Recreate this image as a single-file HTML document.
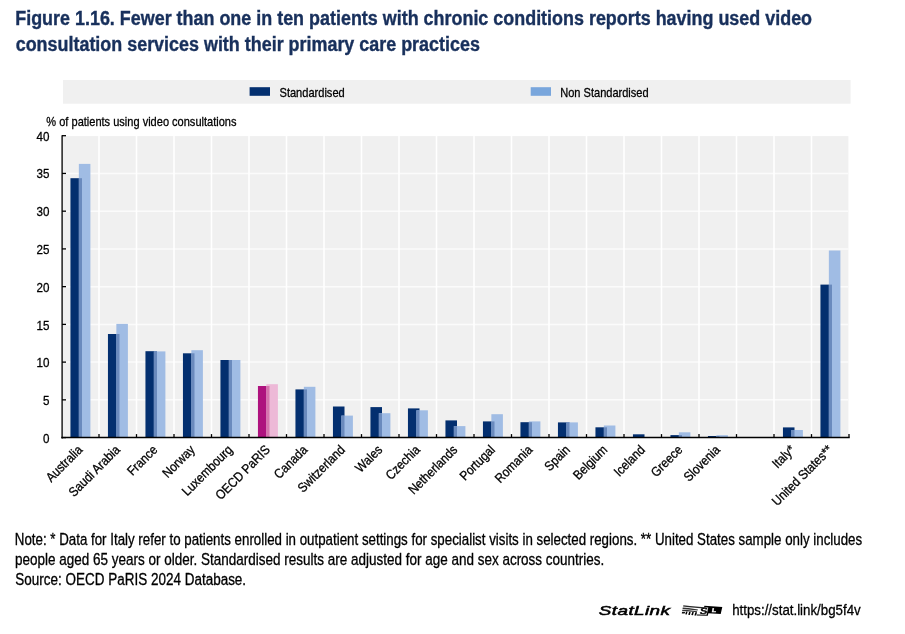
<!DOCTYPE html>
<html><head><meta charset="utf-8"><title>Figure 1.16</title>
<style>
html,body{margin:0;padding:0;background:#fff;}
body{width:905px;height:634px;overflow:hidden;position:relative;}
svg{position:absolute;left:0;top:0;font-family:"Liberation Sans",sans-serif;}
svg text{white-space:pre;}
svg text.k{fill:#000;stroke:#000;stroke-width:0.3px;}
</style></head><body>
<svg width="905" height="634" viewBox="0 0 905 634">
<rect x="63" y="80" width="787.6" height="23.7" fill="#f0f0f0"/>
<rect x="61.5" y="136.1" width="786.9" height="301.50000000000006" fill="#f0f0f0"/>
<line x1="61.5" x2="848.4" y1="399.86" y2="399.86" stroke="#fbfbfb" stroke-width="1.5"/>
<line x1="61.5" x2="848.4" y1="362.12" y2="362.12" stroke="#fbfbfb" stroke-width="1.5"/>
<line x1="61.5" x2="848.4" y1="324.39" y2="324.39" stroke="#fbfbfb" stroke-width="1.5"/>
<line x1="61.5" x2="848.4" y1="286.65" y2="286.65" stroke="#fbfbfb" stroke-width="1.5"/>
<line x1="61.5" x2="848.4" y1="248.91" y2="248.91" stroke="#fbfbfb" stroke-width="1.5"/>
<line x1="61.5" x2="848.4" y1="211.18" y2="211.18" stroke="#fbfbfb" stroke-width="1.5"/>
<line x1="61.5" x2="848.4" y1="173.44" y2="173.44" stroke="#fbfbfb" stroke-width="1.5"/>
<line x1="99.0" x2="99.0" y1="136.1" y2="437.6" stroke="#fff" stroke-width="1.6"/>
<line x1="136.5" x2="136.5" y1="136.1" y2="437.6" stroke="#fff" stroke-width="1.6"/>
<line x1="174.0" x2="174.0" y1="136.1" y2="437.6" stroke="#fff" stroke-width="1.6"/>
<line x1="211.5" x2="211.5" y1="136.1" y2="437.6" stroke="#fff" stroke-width="1.6"/>
<line x1="249.0" x2="249.0" y1="136.1" y2="437.6" stroke="#fff" stroke-width="1.6"/>
<line x1="286.5" x2="286.5" y1="136.1" y2="437.6" stroke="#fff" stroke-width="1.6"/>
<line x1="324.0" x2="324.0" y1="136.1" y2="437.6" stroke="#fff" stroke-width="1.6"/>
<line x1="361.5" x2="361.5" y1="136.1" y2="437.6" stroke="#fff" stroke-width="1.6"/>
<line x1="399.0" x2="399.0" y1="136.1" y2="437.6" stroke="#fff" stroke-width="1.6"/>
<line x1="436.5" x2="436.5" y1="136.1" y2="437.6" stroke="#fff" stroke-width="1.6"/>
<line x1="474.0" x2="474.0" y1="136.1" y2="437.6" stroke="#fff" stroke-width="1.6"/>
<line x1="511.5" x2="511.5" y1="136.1" y2="437.6" stroke="#fff" stroke-width="1.6"/>
<line x1="549.0" x2="549.0" y1="136.1" y2="437.6" stroke="#fff" stroke-width="1.6"/>
<line x1="586.5" x2="586.5" y1="136.1" y2="437.6" stroke="#fff" stroke-width="1.6"/>
<line x1="624.0" x2="624.0" y1="136.1" y2="437.6" stroke="#fff" stroke-width="1.6"/>
<line x1="661.5" x2="661.5" y1="136.1" y2="437.6" stroke="#fff" stroke-width="1.6"/>
<line x1="699.0" x2="699.0" y1="136.1" y2="437.6" stroke="#fff" stroke-width="1.6"/>
<line x1="736.5" x2="736.5" y1="136.1" y2="437.6" stroke="#fff" stroke-width="1.6"/>
<line x1="774.0" x2="774.0" y1="136.1" y2="437.6" stroke="#fff" stroke-width="1.6"/>
<line x1="811.5" x2="811.5" y1="136.1" y2="437.6" stroke="#fff" stroke-width="1.6"/>
<rect x="70.45" y="178.2" width="11.55" height="259.40" fill="#032f6f"/>
<rect x="78.85" y="163.9" width="11.55" height="273.70" fill="#a0bce4"/>
<rect x="78.85" y="178.2" width="3.15" height="259.40" fill="#6a8abd"/>
<rect x="107.95" y="334.0" width="11.55" height="103.60" fill="#032f6f"/>
<rect x="116.35" y="323.9" width="11.55" height="113.70" fill="#a0bce4"/>
<rect x="116.35" y="334.0" width="3.15" height="103.60" fill="#6a8abd"/>
<rect x="145.45" y="351.2" width="11.55" height="86.40" fill="#032f6f"/>
<rect x="153.85" y="351.4" width="11.55" height="86.20" fill="#a0bce4"/>
<rect x="153.85" y="351.4" width="3.15" height="86.20" fill="#6a8abd"/>
<rect x="182.95" y="353.3" width="11.55" height="84.30" fill="#032f6f"/>
<rect x="191.35" y="350.2" width="11.55" height="87.40" fill="#a0bce4"/>
<rect x="191.35" y="353.3" width="3.15" height="84.30" fill="#6a8abd"/>
<rect x="220.45" y="360.0" width="11.55" height="77.60" fill="#032f6f"/>
<rect x="228.85" y="360.0" width="11.55" height="77.60" fill="#a0bce4"/>
<rect x="228.85" y="360.0" width="3.15" height="77.60" fill="#6a8abd"/>
<rect x="257.95" y="386.0" width="11.55" height="51.60" fill="#ae127e"/>
<rect x="266.35" y="384.2" width="11.55" height="53.40" fill="#edb9d7"/>
<rect x="266.35" y="386.0" width="3.15" height="51.60" fill="#d674ae"/>
<rect x="295.45" y="389.4" width="11.55" height="48.20" fill="#032f6f"/>
<rect x="303.85" y="386.8" width="11.55" height="50.80" fill="#a0bce4"/>
<rect x="303.85" y="389.4" width="3.15" height="48.20" fill="#6a8abd"/>
<rect x="332.95" y="406.5" width="11.55" height="31.10" fill="#032f6f"/>
<rect x="341.35" y="415.6" width="11.55" height="22.00" fill="#a0bce4"/>
<rect x="341.35" y="415.6" width="3.15" height="22.00" fill="#6a8abd"/>
<rect x="370.45" y="407.1" width="11.55" height="30.50" fill="#032f6f"/>
<rect x="378.85" y="413.2" width="11.55" height="24.40" fill="#a0bce4"/>
<rect x="378.85" y="413.2" width="3.15" height="24.40" fill="#6a8abd"/>
<rect x="407.95" y="408.4" width="11.55" height="29.20" fill="#032f6f"/>
<rect x="416.35" y="410.3" width="11.55" height="27.30" fill="#a0bce4"/>
<rect x="416.35" y="410.3" width="3.15" height="27.30" fill="#6a8abd"/>
<rect x="445.45" y="420.4" width="11.55" height="17.20" fill="#032f6f"/>
<rect x="453.85" y="426.1" width="11.55" height="11.50" fill="#a0bce4"/>
<rect x="453.85" y="426.1" width="3.15" height="11.50" fill="#6a8abd"/>
<rect x="482.95" y="421.4" width="11.55" height="16.20" fill="#032f6f"/>
<rect x="491.35" y="414.2" width="11.55" height="23.40" fill="#a0bce4"/>
<rect x="491.35" y="421.4" width="3.15" height="16.20" fill="#6a8abd"/>
<rect x="520.45" y="422.2" width="11.55" height="15.40" fill="#032f6f"/>
<rect x="528.85" y="421.4" width="11.55" height="16.20" fill="#a0bce4"/>
<rect x="528.85" y="422.2" width="3.15" height="15.40" fill="#6a8abd"/>
<rect x="557.95" y="422.4" width="11.55" height="15.20" fill="#032f6f"/>
<rect x="566.35" y="422.4" width="11.55" height="15.20" fill="#a0bce4"/>
<rect x="566.35" y="422.4" width="3.15" height="15.20" fill="#6a8abd"/>
<rect x="595.45" y="427.3" width="11.55" height="10.30" fill="#032f6f"/>
<rect x="603.85" y="425.5" width="11.55" height="12.10" fill="#a0bce4"/>
<rect x="603.85" y="427.3" width="3.15" height="10.30" fill="#6a8abd"/>
<rect x="632.95" y="434.3" width="11.55" height="3.30" fill="#032f6f"/>
<rect x="670.45" y="435.1" width="11.55" height="2.50" fill="#032f6f"/>
<rect x="678.85" y="432.3" width="11.55" height="5.30" fill="#a0bce4"/>
<rect x="678.85" y="435.1" width="3.15" height="2.50" fill="#6a8abd"/>
<rect x="707.95" y="436.0" width="11.55" height="1.60" fill="#032f6f"/>
<rect x="716.35" y="435.2" width="11.55" height="2.40" fill="#a0bce4"/>
<rect x="716.35" y="436.0" width="3.15" height="1.60" fill="#6a8abd"/>
<rect x="782.95" y="427.4" width="11.55" height="10.20" fill="#032f6f"/>
<rect x="791.35" y="430.0" width="11.55" height="7.60" fill="#a0bce4"/>
<rect x="791.35" y="430.0" width="3.15" height="7.60" fill="#6a8abd"/>
<rect x="820.45" y="284.6" width="11.55" height="153.00" fill="#032f6f"/>
<rect x="828.85" y="250.5" width="11.55" height="187.10" fill="#a0bce4"/>
<rect x="828.85" y="284.6" width="3.15" height="153.00" fill="#6a8abd"/>
<line x1="62.1" x2="62.1" y1="135.2" y2="438.40000000000003" stroke="#000" stroke-width="1.3"/>
<line x1="61.3" x2="849.7" y1="437.6" y2="437.6" stroke="#000" stroke-width="1.5"/>
<line x1="62" x2="66" y1="437.60" y2="437.60" stroke="#000" stroke-width="1.3"/>
<line x1="62" x2="66" y1="399.86" y2="399.86" stroke="#000" stroke-width="1.3"/>
<line x1="62" x2="66" y1="362.12" y2="362.12" stroke="#000" stroke-width="1.3"/>
<line x1="62" x2="66" y1="324.39" y2="324.39" stroke="#000" stroke-width="1.3"/>
<line x1="62" x2="66" y1="286.65" y2="286.65" stroke="#000" stroke-width="1.3"/>
<line x1="62" x2="66" y1="248.91" y2="248.91" stroke="#000" stroke-width="1.3"/>
<line x1="62" x2="66" y1="211.18" y2="211.18" stroke="#000" stroke-width="1.3"/>
<line x1="62" x2="66" y1="173.44" y2="173.44" stroke="#000" stroke-width="1.3"/>
<line x1="62" x2="66" y1="135.70" y2="135.70" stroke="#000" stroke-width="1.3"/>
<line x1="99.0" x2="99.0" y1="434.1" y2="437.6" stroke="#000" stroke-width="1.3"/>
<line x1="136.5" x2="136.5" y1="434.1" y2="437.6" stroke="#000" stroke-width="1.3"/>
<line x1="174.0" x2="174.0" y1="434.1" y2="437.6" stroke="#000" stroke-width="1.3"/>
<line x1="211.5" x2="211.5" y1="434.1" y2="437.6" stroke="#000" stroke-width="1.3"/>
<line x1="249.0" x2="249.0" y1="434.1" y2="437.6" stroke="#000" stroke-width="1.3"/>
<line x1="286.5" x2="286.5" y1="434.1" y2="437.6" stroke="#000" stroke-width="1.3"/>
<line x1="324.0" x2="324.0" y1="434.1" y2="437.6" stroke="#000" stroke-width="1.3"/>
<line x1="361.5" x2="361.5" y1="434.1" y2="437.6" stroke="#000" stroke-width="1.3"/>
<line x1="399.0" x2="399.0" y1="434.1" y2="437.6" stroke="#000" stroke-width="1.3"/>
<line x1="436.5" x2="436.5" y1="434.1" y2="437.6" stroke="#000" stroke-width="1.3"/>
<line x1="474.0" x2="474.0" y1="434.1" y2="437.6" stroke="#000" stroke-width="1.3"/>
<line x1="511.5" x2="511.5" y1="434.1" y2="437.6" stroke="#000" stroke-width="1.3"/>
<line x1="549.0" x2="549.0" y1="434.1" y2="437.6" stroke="#000" stroke-width="1.3"/>
<line x1="586.5" x2="586.5" y1="434.1" y2="437.6" stroke="#000" stroke-width="1.3"/>
<line x1="624.0" x2="624.0" y1="434.1" y2="437.6" stroke="#000" stroke-width="1.3"/>
<line x1="661.5" x2="661.5" y1="434.1" y2="437.6" stroke="#000" stroke-width="1.3"/>
<line x1="699.0" x2="699.0" y1="434.1" y2="437.6" stroke="#000" stroke-width="1.3"/>
<line x1="736.5" x2="736.5" y1="434.1" y2="437.6" stroke="#000" stroke-width="1.3"/>
<line x1="774.0" x2="774.0" y1="434.1" y2="437.6" stroke="#000" stroke-width="1.3"/>
<line x1="811.5" x2="811.5" y1="434.1" y2="437.6" stroke="#000" stroke-width="1.3"/>
<line x1="849.0" x2="849.0" y1="434.1" y2="437.6" stroke="#000" stroke-width="1.3"/>
<rect x="249.6" y="87.2" width="20.4" height="8.6" fill="#032f6f"/>
<rect x="530.7" y="87.2" width="20.3" height="8.6" fill="#79a6dc"/>
<text class="k" transform="translate(49.5,442.90) scale(0.855,1)" font-size="13.6" text-anchor="end">0</text>
<text class="k" transform="translate(49.5,405.10) scale(0.855,1)" font-size="13.6" text-anchor="end">5</text>
<text class="k" transform="translate(49.5,367.30) scale(0.855,1)" font-size="13.6" text-anchor="end">10</text>
<text class="k" transform="translate(49.5,329.50) scale(0.855,1)" font-size="13.6" text-anchor="end">15</text>
<text class="k" transform="translate(49.5,291.70) scale(0.855,1)" font-size="13.6" text-anchor="end">20</text>
<text class="k" transform="translate(49.5,253.90) scale(0.855,1)" font-size="13.6" text-anchor="end">25</text>
<text class="k" transform="translate(49.5,216.10) scale(0.855,1)" font-size="13.6" text-anchor="end">30</text>
<text class="k" transform="translate(49.5,178.30) scale(0.855,1)" font-size="13.6" text-anchor="end">35</text>
<text class="k" transform="translate(49.5,140.50) scale(0.855,1)" font-size="13.6" text-anchor="end">40</text>
<text class="k" transform="translate(83.25,450.6) rotate(-45) scale(0.885,1)" font-size="13.2" text-anchor="end">Australia</text>
<text class="k" transform="translate(120.75,450.6) rotate(-45) scale(0.885,1)" font-size="13.2" text-anchor="end">Saudi Arabia</text>
<text class="k" transform="translate(158.25,450.6) rotate(-45) scale(0.885,1)" font-size="13.2" text-anchor="end">France</text>
<text class="k" transform="translate(195.75,450.6) rotate(-45) scale(0.885,1)" font-size="13.2" text-anchor="end">Norway</text>
<text class="k" transform="translate(233.25,450.6) rotate(-45) scale(0.885,1)" font-size="13.2" text-anchor="end">Luxembourg</text>
<text class="k" transform="translate(270.75,450.6) rotate(-45) scale(0.885,1)" font-size="13.2" text-anchor="end">OECD PaRIS</text>
<text class="k" transform="translate(308.25,450.6) rotate(-45) scale(0.885,1)" font-size="13.2" text-anchor="end">Canada</text>
<text class="k" transform="translate(345.75,450.6) rotate(-45) scale(0.885,1)" font-size="13.2" text-anchor="end">Switzerland</text>
<text class="k" transform="translate(383.25,450.6) rotate(-45) scale(0.885,1)" font-size="13.2" text-anchor="end">Wales</text>
<text class="k" transform="translate(420.75,450.6) rotate(-45) scale(0.885,1)" font-size="13.2" text-anchor="end">Czechia</text>
<text class="k" transform="translate(458.25,450.6) rotate(-45) scale(0.885,1)" font-size="13.2" text-anchor="end">Netherlands</text>
<text class="k" transform="translate(495.75,450.6) rotate(-45) scale(0.885,1)" font-size="13.2" text-anchor="end">Portugal</text>
<text class="k" transform="translate(533.25,450.6) rotate(-45) scale(0.885,1)" font-size="13.2" text-anchor="end">Romania</text>
<text class="k" transform="translate(570.75,450.6) rotate(-45) scale(0.885,1)" font-size="13.2" text-anchor="end">Spain</text>
<text class="k" transform="translate(608.25,450.6) rotate(-45) scale(0.885,1)" font-size="13.2" text-anchor="end">Belgium</text>
<text class="k" transform="translate(645.75,450.6) rotate(-45) scale(0.885,1)" font-size="13.2" text-anchor="end">Iceland</text>
<text class="k" transform="translate(683.25,450.6) rotate(-45) scale(0.885,1)" font-size="13.2" text-anchor="end">Greece</text>
<text class="k" transform="translate(720.75,450.6) rotate(-45) scale(0.885,1)" font-size="13.2" text-anchor="end">Slovenia</text>
<text class="k" transform="translate(795.75,450.6) rotate(-45) scale(0.885,1)" font-size="13.2" text-anchor="end">Italy*</text>
<text class="k" transform="translate(833.25,450.6) rotate(-45) scale(0.885,1)" font-size="13.2" text-anchor="end">United States**</text>
<text transform="translate(15.20,25.4) scale(0.8663,1)" font-size="20.7" style="fill:#18305c;stroke:#18305c;stroke-width:0.4px;font-weight:bold;">Figure 1.16. Fewer than one in ten patients with chronic conditions reports having used video</text>
<text transform="translate(15.70,50.7) scale(0.8659,1)" font-size="20.7" style="fill:#18305c;stroke:#18305c;stroke-width:0.4px;font-weight:bold;">consultation services with their primary care practices</text>
<text transform="translate(14.80,544.9) scale(0.8536,1)" font-size="15.6" style="fill:#000;stroke:#000;stroke-width:0.3px;">Note: * Data for Italy refer to patients enrolled in outpatient settings for specialist visits in selected regions. ** United States sample only includes</text>
<text transform="translate(15.05,564.6) scale(0.8649,1)" font-size="15.6" style="fill:#000;stroke:#000;stroke-width:0.3px;">people aged 65 years or older. Standardised results are adjusted for age and sex across countries.</text>
<text transform="translate(15.30,584.7) scale(0.8644,1)" font-size="15.6" style="fill:#000;stroke:#000;stroke-width:0.3px;">Source: OECD PaRIS 2024 Database.</text>
<text transform="translate(279.50,96.9) scale(0.8264,1)" font-size="13.4" style="fill:#000;stroke:#000;stroke-width:0.3px;">Standardised</text>
<text transform="translate(560.25,96.9) scale(0.8247,1)" font-size="13.4" style="fill:#000;stroke:#000;stroke-width:0.3px;">Non Standardised</text>
<text transform="translate(46.35,125.8) scale(0.8243,1)" font-size="13.4" style="fill:#000;stroke:#000;stroke-width:0.3px;">% of patients using video consultations</text>
<text transform="translate(732.15,614.6) scale(0.8639,1)" font-size="15.4" style="fill:#000;stroke:#000;stroke-width:0.3px;">https://stat.link/bg5f4v</text>
<text transform="translate(598.85,614.6) scale(1.4067,1)" font-size="13.4" style="fill:#000;stroke:#000;stroke-width:0.55px;font-style:italic;letter-spacing:0.3px;">StatLink</text>
<g>
<path d="M683.4 605.2 L690 605.9 L704.2 607.2 L703.8 608.4 L689 607.3 L683.0 606.6 Z" fill="#2a2a2a"/>
<path d="M682.8 607.4 L688.5 608.0 L698.0 609.4 L697.6 610.6 L688 609.5 L682.5 608.9 Z" fill="#333"/>
<path d="M682.3 609.7 L687.5 610.0 L697.2 611.2 L696.9 612.2 L687.2 611.3 L682.1 611.2 Z" fill="#333"/>
<path d="M682.0 611.9 L685.2 611.9 L684.6 613.6 L681.8 613.6 Z" fill="#111"/>
<path d="M685.2 614.2 L686.2 611.6 L687.6 611.6 L686.8 614.5 Z M688.2 614.7 L689.2 611.8 L690.7 611.8 L689.9 615.0 Z M691.3 615.1 L692.3 612.0 L693.8 612.0 L693.0 615.3 Z M694.4 615.4 L695.4 612.2 L697.0 612.2 L696.2 615.6 Z" fill="#000"/>
<path d="M704.4 605.7 L722.3 607.0 L720.7 614.0 L708.4 613.2 L707.8 615.8 L696.8 615.4 L697.1 614.4 L706.6 614.7 L708.3 607.6 L704.0 607.4 Z" fill="#000"/>
<text transform="translate(699.2,614.4) scale(1.28,1) skewX(-10)" font-size="9" font-weight="bold" style="fill:#000;stroke:#000;stroke-width:0.2px">S</text>
<text transform="translate(711.4,611.6) scale(1.3,1) skewX(-10)" font-size="5.6" font-weight="bold" style="fill:#fff;stroke:#fff;stroke-width:0.3px">L</text>
</g>

</svg>
</body></html>
